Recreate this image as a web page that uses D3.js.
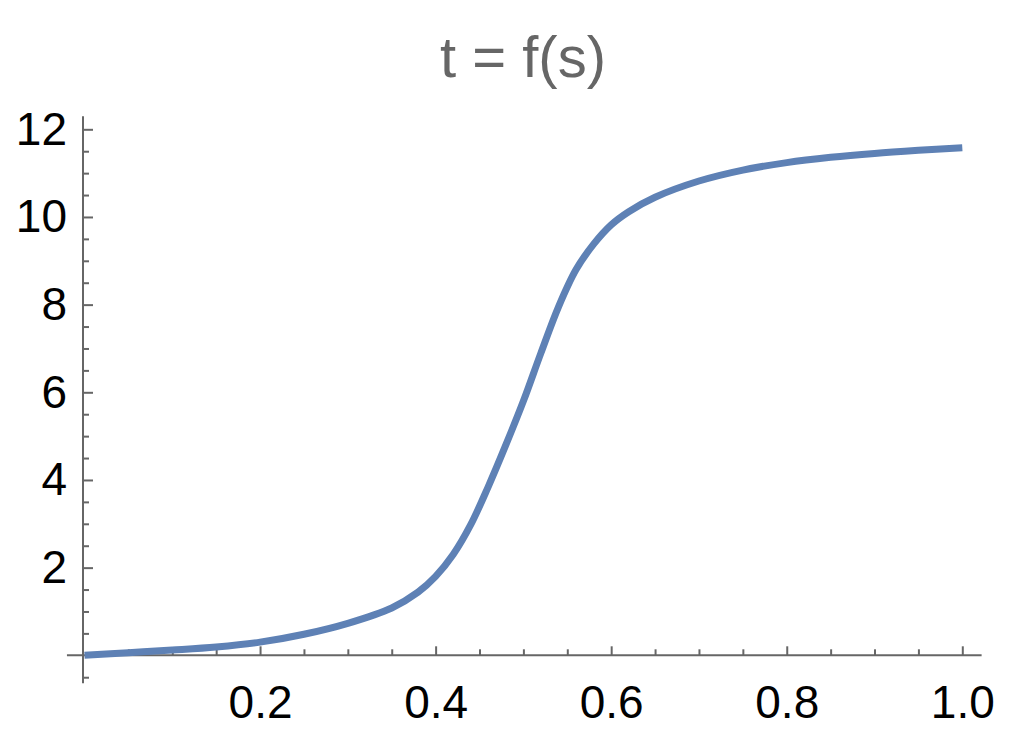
<!DOCTYPE html>
<html>
<head>
<meta charset="utf-8">
<script src="https://cdn.jsdelivr.net/npm/d3@7"></script>
<style>
  body { margin: 0; background: #fff; }
  svg { font-family: "Liberation Sans", Arial, sans-serif; }
  .axis line, .axis path { stroke: #666; stroke-width: 2px; }
  .axis text { fill: #000; font-size: 46px; }
  .title { fill: #666; font-size: 58px; }
</style>
</head>
<body>
<svg width="1036" height="749"></svg>
<script>
// values: s -> t
var sValues = [0, 0.05, 0.1, 0.15, 0.2, 0.25, 0.3, 0.35, 0.38, 0.4, 0.42, 0.44, 0.46, 0.48, 0.5,
               0.52, 0.54, 0.56, 0.58, 0.6, 0.62, 0.65, 0.7, 0.75, 0.8, 0.85, 0.9, 0.95, 1.0];
var tValues = [0.0, 0.06, 0.12, 0.19, 0.30, 0.48, 0.73, 1.08, 1.44, 1.80, 2.30, 2.98, 3.85, 4.80, 5.80,
               6.90, 7.95, 8.80, 9.38, 9.82, 10.12, 10.45, 10.82, 11.07, 11.24, 11.36, 11.45, 11.52, 11.58];

var xTicks = [0.2, 0.4, 0.6, 0.8, 1.0];
var yTicks = [2, 4, 6, 8, 10, 12];

var svg = d3.select('svg');

// **** scales ****
var xScale = d3.scaleLinear().domain([0, 1]).range([84.5, 962.3]);
var yScale = d3.scaleLinear().domain([0, 12]).range([655.3, 129.3]);

var x0 = 83;                 // where the vertical axis sits
var y0 = yScale(0);

// minor ticks
var xMinor = d3.range(0.05, 1.01, 0.05).filter(function(v){ return Math.abs(v * 5 - Math.round(v * 5)) > 1e-6; });
var yMinor = d3.range(-0.5, 12.3, 0.5).filter(function(v){ return v % 2 != 0; });

svg.append('g').attr('class', 'axis')
    .attr('transform', 'translate(0,' + y0 + ')')
    .call(d3.axisBottom(xScale).tickValues(xMinor).tickSize(-6).tickFormat(''))
    .call(function(g){ g.select('.domain').remove(); });

svg.append('g').attr('class', 'axis')
    .attr('transform', 'translate(0,' + y0 + ')')
    .call(d3.axisBottom(xScale).tickValues(xTicks).tickSize(-9).tickPadding(30)
        .tickFormat(d3.format('.1f')))
    .call(function(g){ g.select('.domain').remove(); });

svg.append('g').attr('class', 'axis')
    .attr('transform', 'translate(' + x0 + ',0)')
    .call(d3.axisLeft(yScale).tickValues(yMinor).tickSize(-6).tickFormat(''))
    .call(function(g){ g.select('.domain').remove(); });

svg.append('g').attr('class', 'axis')
    .attr('transform', 'translate(' + x0 + ',0)')
    .call(d3.axisLeft(yScale).tickValues(yTicks).tickSize(-10).tickPadding(16))
    .call(function(g){ g.select('.domain').remove(); });

// axis lines
var axes = svg.append('g').attr('class', 'axis');
axes.append('line')
    .attr('x1', xScale(-0.02)).attr('x2', xScale(1.022))
    .attr('y1', y0).attr('y2', y0);
axes.append('line')
    .attr('x1', x0).attr('x2', x0)
    .attr('y1', yScale(12.3)).attr('y2', yScale(-0.64));

// **** the curve ****
var pts = sValues.map(function(s, i){ return [s, tValues[i]]; });
var line = d3.line()
    .x(function(d){ return xScale(d[0]); })
    .y(function(d){ return yScale(d[1]); })
    .curve(d3.curveCatmullRom.alpha(0.5));

svg.append('path')
    .datum(pts)
    .attr('d', line)
    .attr('fill', 'none')
    .attr('stroke', '#5e81b5')
    .attr('stroke-width', 7);

svg.append('text')
    .attr('class', 'title')
    .attr('x', 523)
    .attr('y', 77)
    .attr('text-anchor', 'middle')
    .text('t = f(s)');
</script>
</body>
</html>
